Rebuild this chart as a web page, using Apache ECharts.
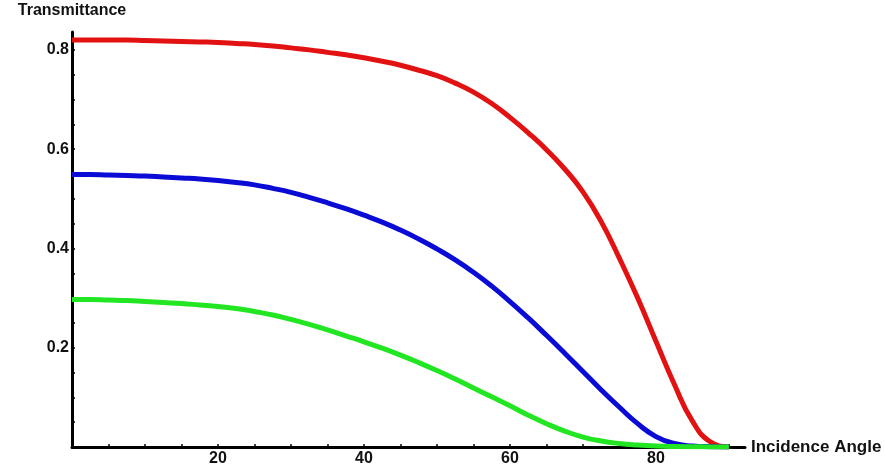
<!DOCTYPE html>
<html>
<head>
<meta charset="utf-8">
<script src="https://cdn.jsdelivr.net/npm/echarts@6/dist/echarts.min.js"></script>
<style>
  html, body { margin: 0; padding: 0; background: #fff; }
  #chart { width: 885px; height: 467px; }
</style>
</head>
<body>
<div id="chart"></div>
<script>
// incidence angle (degrees), shared by all three curves
const angles = [0, 2.5, 5, 7.5, 10, 12.5, 15, 17.5, 20, 22.5, 25, 27.5, 30, 32.5, 35, 37.5, 40, 42.5, 45,
  47.5, 50, 52.5, 55, 57.5, 60, 62.5, 65, 67.5, 70, 72.5, 75, 77.5, 80, 82.5, 85, 87.5, 90]

// transmittance
const redValues = [0.820, 0.820, 0.820, 0.820, 0.819, 0.818, 0.817, 0.816, 0.815, 0.813, 0.811, 0.808, 0.804,
  0.800, 0.795, 0.790, 0.784, 0.777, 0.769, 0.759, 0.748, 0.733, 0.715, 0.692, 0.664, 0.633, 0.599, 0.560,
  0.514, 0.454, 0.380, 0.300, 0.213, 0.127, 0.052, 0.010, 0]
const blueValues = [0.549, 0.549, 0.548, 0.547, 0.546, 0.544, 0.542, 0.540, 0.537, 0.533, 0.528, 0.521, 0.513,
  0.503, 0.492, 0.480, 0.467, 0.453, 0.437, 0.419, 0.399, 0.377, 0.352, 0.324, 0.293, 0.260, 0.225, 0.189,
  0.152, 0.115, 0.080, 0.047, 0.021, 0.007, 0.002, 0.0005, 0]
const greenValues = [0.297, 0.297, 0.296, 0.295, 0.293, 0.291, 0.289, 0.286, 0.283, 0.279, 0.273, 0.266, 0.257,
  0.247, 0.236, 0.224, 0.212, 0.199, 0.185, 0.170, 0.154, 0.137, 0.119, 0.101, 0.083, 0.064, 0.047, 0.032,
  0.020, 0.012, 0.007, 0.004, 0.002, 0.001, 0.0005, 0.0002, 0]

const xTicks = [20, 40, 60, 80]
const yTicks = [0.2, 0.4, 0.6, 0.8]

const zip = (xs, ys) => xs.map((x, i) => [x, ys[i]])

const chart = echarts.init(document.getElementById('chart'))

const labelFont = {
  color: '#111',
  fontFamily: 'Liberation Sans, Arial, sans-serif',
  fontWeight: 'bold',
  fontSize: 16
}

function curve (name, values, color) {
  return {
    name: name,
    type: 'line',
    smooth: 0.5,
    showSymbol: false,
    data: zip(angles, values),
    lineStyle: { color: color, width: 5 },
    z: 1
  }
}

const option = {
  animation: false,
  backgroundColor: '#fff',
  grid: { left: 72, right: 140, top: 32, bottom: 19, containLabel: false },
  xAxis: {
    type: 'value',
    min: 0,
    max: 92.2,
    interval: 5,
    name: 'Incidence Angle',
    nameLocation: 'end',
    nameGap: 6,
    nameTextStyle: Object.assign({}, labelFont, { fontSize: 17, verticalAlign: 'middle' }),
    axisLine: { show: true, onZero: false, lineStyle: { color: '#000', width: 3 } },
    axisTick: { show: true, inside: true, length: 3, lineStyle: { color: '#000', width: 1.5 } },
    axisLabel: Object.assign({}, labelFont, {
      margin: 4,
      showMinLabel: false,
      showMaxLabel: false,
      formatter: v => (xTicks.indexOf(v) >= 0 ? String(v) : '')
    }),
    splitLine: { show: false }
  },
  yAxis: {
    type: 'value',
    min: 0,
    max: 0.836,
    interval: 0.05,
    name: 'Transmittance',
    nameLocation: 'end',
    nameGap: 13,
    nameTextStyle: Object.assign({}, labelFont, { align: 'center' }),
    axisLine: { show: true, onZero: false, lineStyle: { color: '#000', width: 3 } },
    axisTick: { show: true, inside: true, length: 3, lineStyle: { color: '#000', width: 1.5 } },
    axisLabel: Object.assign({}, labelFont, {
      margin: 3,
      showMinLabel: false,
      showMaxLabel: false,
      formatter: v => {
        const r = Math.round(v * 100) / 100
        return yTicks.indexOf(r) >= 0 ? r.toFixed(1) : ''
      }
    }),
    splitLine: { show: false }
  },
  series: [
    curve('red', redValues, '#e31212'),
    curve('blue', blueValues, '#0b0bd6'),
    curve('green', greenValues, '#22e622')
  ]
}

chart.setOption(option)
</script>
</body>
</html>
